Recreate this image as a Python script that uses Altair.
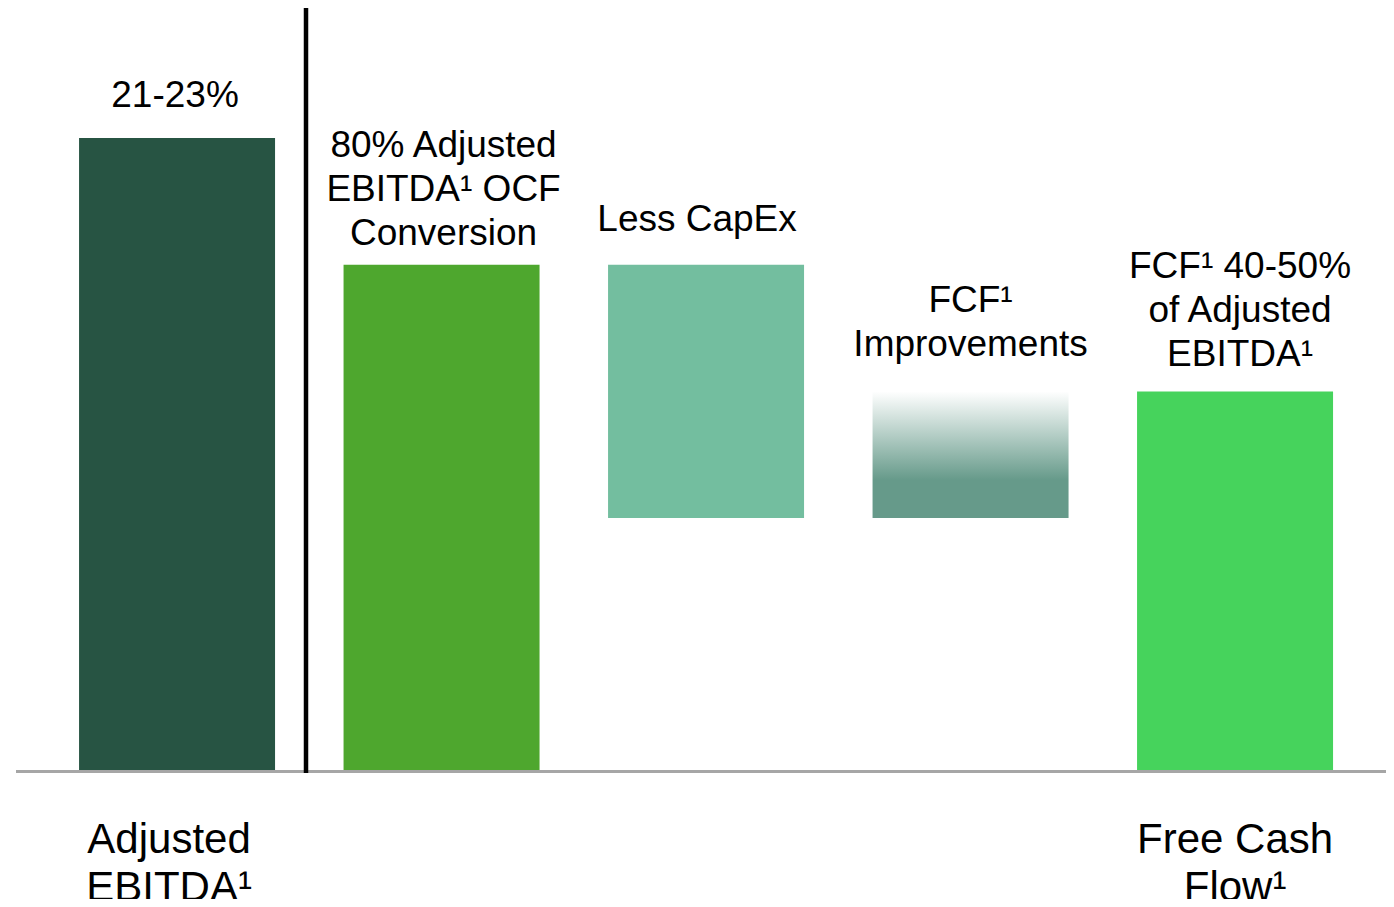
import altair as alt
import pandas as pd

# ---- data ----
categories = ["Adjusted EBITDA", "OCF Conversion", "Less CapEx", "FCF Improvements", "Free Cash Flow"]
bar_start = [0, 0, 40, 40, 0]
bar_end = [100, 80, 80, 60, 60]
bar_colors = ["#275443", "#4ea72e", "#73be9f", "#669a8a", "#46d35c"]
top_labels = [
    ["21-23%"],
    ["80% Adjusted", "EBITDA¹ OCF", "Conversion"],
    ["Less CapEx"],
    ["FCF¹", "Improvements"],
    ["FCF¹ 40-50%", "of Adjusted", "EBITDA¹"],
]
bottom_labels = [["Adjusted", "EBITDA¹"], [""], [""], [""], ["Free Cash", "Flow¹"]]

df = pd.DataFrame({
    "cat": categories,
    "start": bar_start,
    "end": bar_end,
    "top": top_labels,
    "bottom": bottom_labels,
})

FONT = "Liberation Sans"

x_scale = alt.Scale(domain=categories, paddingInner=0.259, paddingOuter=0.2344, align=0.573)
y_scale = alt.Scale(domain=[-20.13, 120.52], nice=False, zero=False)
X = alt.X("cat:N", scale=x_scale, axis=None, sort=categories)

base = alt.Chart(df)

solid = base.transform_filter(alt.datum.cat != "FCF Improvements").mark_bar(opacity=1).encode(
    x=X,
    y=alt.Y("start:Q", scale=y_scale, axis=None),
    y2="end:Q",
    color=alt.Color("cat:N", scale=alt.Scale(domain=categories, range=bar_colors), legend=None),
)

grad = base.transform_filter(alt.datum.cat == "FCF Improvements").mark_bar(
    color=alt.Gradient(
        gradient="linear",
        stops=[alt.GradientStop(color="#ffffff", offset=0),
               alt.GradientStop(color="#669a8a", offset=0.7)],
        x1=0, x2=0, y1=0, y2=1,
    )
).encode(
    x=X,
    y=alt.Y("start:Q", scale=y_scale, axis=None),
    y2="end:Q",
)

baseline = alt.Chart(pd.DataFrame({"v": [0]})).mark_rule(color="#a6a6a6", strokeWidth=3).encode(
    y=alt.Y("v:Q", scale=y_scale, axis=None),
    x=alt.value(8),
    x2=alt.value(1378),
)

divider = alt.Chart(pd.DataFrame({"v": [0]})).mark_rule(color="#000000", strokeWidth=4.5).encode(
    x=alt.value(298),
    y=alt.value(-1),
    y2=alt.value(765),
)

# per-label offsets (style only): first-line centre relative to bar top
top_dy = [-42, -119, -45, -90, -124]
top_dx = [-2, 2, -9, 0, 5]
texts = []
for cat, dy, dx in zip(categories, top_dy, top_dx):
    texts.append(
        base.transform_filter(alt.datum.cat == cat).mark_text(
            font=FONT, fontSize=37, lineHeight=44, baseline="middle", align="center",
            dy=dy, dx=dx, color="#000000"
        ).encode(x=X, y=alt.Y("end:Q", scale=y_scale, axis=None), text="top")
    )

bottom_dx = {"Adjusted EBITDA": -8, "Free Cash Flow": 0}
for cat, dx in bottom_dx.items():
    texts.append(
        base.transform_filter(alt.datum.cat == cat).mark_text(
            font=FONT, fontSize=42, lineHeight=48, baseline="middle", align="center",
            dy=69, dx=dx, color="#000000"
        ).encode(x=X, y=alt.Y("start:Q", scale=y_scale, axis=None), text="bottom")
    )

chart = alt.layer(solid, grad, baseline, divider, *texts).properties(
    width=1378, height=891, padding=0, autosize=alt.AutoSizeParams(type="none")
).configure_view(stroke=None, strokeWidth=0)

chart.save("out.html", embed_options={"renderer": "svg", "actions": False})
